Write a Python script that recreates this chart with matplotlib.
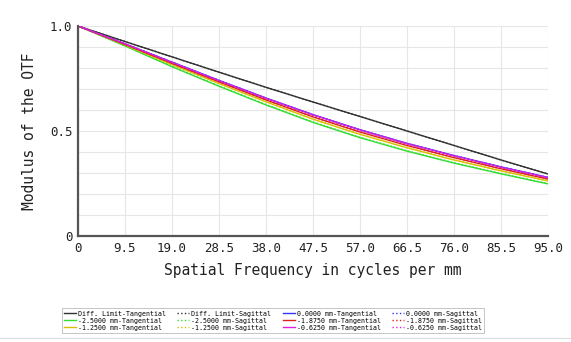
import matplotlib
matplotlib.use("Agg")
import matplotlib.pyplot as plt
from matplotlib.lines import Line2D

freq = [0, 9.5, 19.0, 28.5, 38.0, 47.5, 57.0, 66.5, 76.0, 85.5, 95.0]

diff_t = [1.0, 0.926, 0.853, 0.780, 0.708, 0.638, 0.569, 0.500, 0.431, 0.362, 0.295]
diff_s = [1.0, 0.926, 0.853, 0.780, 0.708, 0.638, 0.569, 0.500, 0.431, 0.362, 0.295]
f0_t = [1.0, 0.915, 0.828, 0.741, 0.657, 0.578, 0.506, 0.441, 0.383, 0.329, 0.279]
f0_s = [1.0, 0.915, 0.828, 0.741, 0.656, 0.577, 0.505, 0.441, 0.383, 0.329, 0.279]
f25_t = [1.0, 0.905, 0.806, 0.713, 0.624, 0.541, 0.468, 0.404, 0.347, 0.296, 0.248]
f25_s = [1.0, 0.906, 0.808, 0.715, 0.626, 0.543, 0.470, 0.406, 0.349, 0.298, 0.250]
f1875_t = [1.0, 0.912, 0.822, 0.734, 0.648, 0.567, 0.495, 0.431, 0.373, 0.320, 0.271]
f1875_s = [1.0, 0.913, 0.823, 0.735, 0.649, 0.568, 0.496, 0.432, 0.374, 0.321, 0.272]
f125_t = [1.0, 0.909, 0.816, 0.726, 0.639, 0.556, 0.484, 0.420, 0.362, 0.310, 0.262]
f125_s = [1.0, 0.910, 0.817, 0.727, 0.640, 0.557, 0.485, 0.421, 0.363, 0.311, 0.263]
f0625_t = [1.0, 0.915, 0.827, 0.740, 0.656, 0.577, 0.505, 0.440, 0.382, 0.328, 0.278]
f0625_s = [1.0, 0.915, 0.827, 0.740, 0.656, 0.577, 0.505, 0.440, 0.382, 0.328, 0.278]

labels = ["Diff. Limit-Tangential", "-2.5000 mm-Tangential", "-1.2500 mm-Tangential",
          "Diff. Limit-Sagittal", "-2.5000 mm-Sagittal", "-1.2500 mm-Sagittal",
          "0.0000 mm-Tangential", "-1.8750 mm-Tangential", "-0.6250 mm-Tangential",
          "0.0000 mm-Sagittal", "-1.8750 mm-Sagittal", "-0.6250 mm-Sagittal"]

xticks = [0, 9.5, 19.0, 28.5, 38.0, 47.5, 57.0, 66.5, 76.0, 85.5, 95.0]
xticklabels = ["0", "9.5", "19.0", "28.5", "38.0", "47.5", "57.0", "66.5", "76.0", "85.5", "95.0"]

c_black = "#303030"
c_green = "#33dd33"
c_yellow = "#d8c000"
c_blue = "#3333ff"
c_red = "#e02020"
c_mag = "#e020e0"

fig = plt.figure(figsize=(5.71, 3.42), dpi=100)
ax = fig.add_axes([0.1366, 0.31, 0.8231, 0.614])

series = [
    (diff_t, c_black, "-", labels[0]),
    (f25_t, c_green, "-", labels[1]),
    (f125_t, c_yellow, "-", labels[2]),
    (diff_s, c_black, ":", labels[3]),
    (f25_s, c_green, ":", labels[4]),
    (f125_s, c_yellow, ":", labels[5]),
    (f0_t, c_blue, "-", labels[6]),
    (f1875_t, c_red, "-", labels[7]),
    (f0625_t, c_mag, "-", labels[8]),
    (f0_s, c_blue, ":", labels[9]),
    (f1875_s, c_red, ":", labels[10]),
    (f0625_s, c_mag, ":", labels[11]),
]
handles = []
for ys, c, ls, lab in series:
    h, = ax.plot(freq, ys, color=c, ls=ls, lw=1.0, label=lab)
    handles.append(h)

ax.set_xlim(0, 95)
ax.set_ylim(0, 1.0)
ax.set_xticks(xticks)
ax.set_xticklabels(xticklabels)
ax.set_yticks([0, 0.5, 1.0])
ax.set_yticklabels(["0", "0.5", "1.0"])
ax.set_yticks([i / 10 for i in range(11)], minor=True)
ax.grid(True, which="major", color="#e6e6e6", lw=0.8)
ax.grid(True, which="minor", axis="y", color="#e6e6e6", lw=0.8)
ax.set_axisbelow(True)
ax.tick_params(which="both", length=0, labelsize=9, pad=4)
for lab in ax.get_xticklabels() + ax.get_yticklabels():
    lab.set_family("DejaVu Sans Mono")
    lab.set_color("#222222")
for s in ["top", "right"]:
    ax.spines[s].set_visible(False)
for s in ["left", "bottom"]:
    ax.spines[s].set_color("#555555")
    ax.spines[s].set_linewidth(1.6)

ax.set_xlabel("Spatial Frequency in cycles per mm", family="DejaVu Sans Mono", fontsize=10.5, labelpad=6, color="#222222")
ax.set_ylabel("Modulus of the OTF", family="DejaVu Sans Mono", fontsize=10.5, labelpad=9, color="#222222")

leg = fig.legend(handles=handles, labels=labels, ncol=4, loc="upper left",
                 bbox_to_anchor=(0.108, 0.098), bbox_transform=fig.transFigure,
                 prop={"family": "DejaVu Sans Mono", "size": 4.8},
                 frameon=True, fancybox=False, edgecolor="#aaaaaa",
                 handlelength=1.8, handletextpad=0.3, columnspacing=1.7,
                 labelspacing=0.15, borderpad=0.35, borderaxespad=0)
leg.get_frame().set_linewidth(0.6)

fig.add_artist(Line2D([0, 1], [0.012, 0.012], transform=fig.transFigure, color="#dddddd", lw=0.8))

fig.savefig("out.png", dpi=100)
